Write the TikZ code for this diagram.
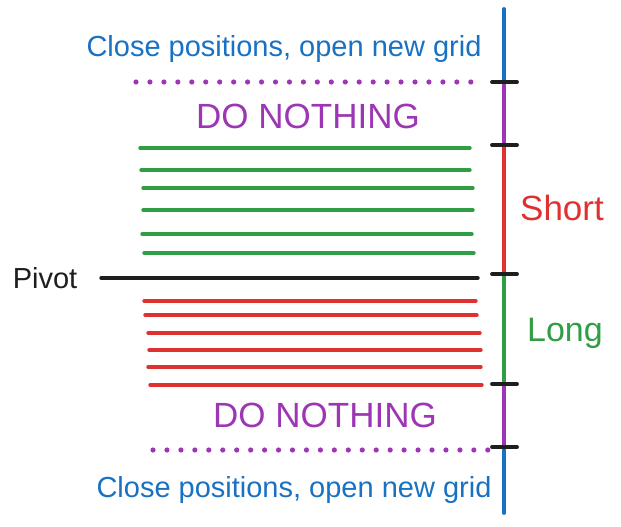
\documentclass[tikz,border=0pt]{standalone}
\usepackage{fontspec}
\setmainfont{Liberation Sans}
\definecolor{gridblue}{HTML}{1971C2}
\definecolor{gridpurple}{HTML}{9C36B5}
\definecolor{gridred}{HTML}{E03131}
\definecolor{gridgreen}{HTML}{2F9E44}
\definecolor{gridblack}{HTML}{1E1E1E}
\tikzset{
  axisline/.style={line width=3.8pt, line cap=round},
  tickmark/.style={gridblack, line width=3.8pt, line cap=round},
  level/.style={line width=3.4pt, line cap=round},
  dotline/.style={gridpurple, line width=5.2pt, line cap=round, dash pattern=on 0pt off 13.95pt},
}
\begin{document}
\begin{tikzpicture}[x=1pt,y=-1pt]
  \useasboundingbox (0,0) rectangle (621,527);
  % axis points
  \coordinate (ax0) at (504,9);
  \coordinate (ax1) at (504,82);
  \coordinate (ax2) at (504,145);
  \coordinate (ax3) at (504,274);
  \coordinate (ax4) at (504,384);
  \coordinate (ax5) at (504,447);
  \coordinate (ax6) at (504,513);
  \draw[axisline, gridblue] (ax0) -- (ax1);
  \draw[axisline, gridpurple] (ax1) -- (ax2);
  \draw[axisline, gridred] (ax2) -- (ax3);
  \draw[axisline, gridgreen] (ax3) -- (ax4);
  \draw[axisline, gridpurple] (ax4) -- (ax5);
  \draw[axisline, gridblue] (ax5) -- (ax6);
  \foreach \p in {ax1,ax2,ax3,ax4,ax5}
    \draw[tickmark] ([xshift=-12pt]\p) -- ([xshift=13pt]\p);

  % grid levels
  \foreach \y/\xa/\xb in {148/140/470,170/141/470,188/143/473,210/143/473,234/142/472,253/144/474}
    \draw[level, gridgreen] (\xa,\y) -- (\xb,\y);
  \foreach \y/\xa/\xb in {301/144/476,315/145/477,333/148/480,350/149/481,367/148/481,385/150/482}
    \draw[level, gridred] (\xa,\y) -- (\xb,\y);
  \draw[level, gridblack] (101,278) -- (478,278);

  % outer limits
  \draw[dotline] (136,82) -- (471,82);
  \draw[dotline] (153,450) -- (488,450);

  % labels
  \node[anchor=base, gridblue, font=\fontsize{29}{32}\selectfont] (closetop) at (284,57) {Close positions, open new grid};
  \node[anchor=base, gridblue, font=\fontsize{29}{32}\selectfont] (closebot) at (294,497) {Close positions, open new grid};
  \node[anchor=base, gridpurple, font=\fontsize{35}{38}\selectfont] (waittop) at (308,128) {DO NOTHING};
  \node[anchor=base, gridpurple, font=\fontsize{35}{38}\selectfont] (waitbot) at (325,427) {DO NOTHING};
  \node[anchor=base, gridred, font=\fontsize{35}{38}\selectfont] (short) at (562,220) {Short};
  \node[anchor=base, gridgreen, font=\fontsize{34}{37}\selectfont] (long) at (565,341) {Long};
  \node[anchor=base, gridblack, font=\fontsize{29}{32}\selectfont] (pivot) at (45,288) {Pivot};
\end{tikzpicture}
\end{document}
